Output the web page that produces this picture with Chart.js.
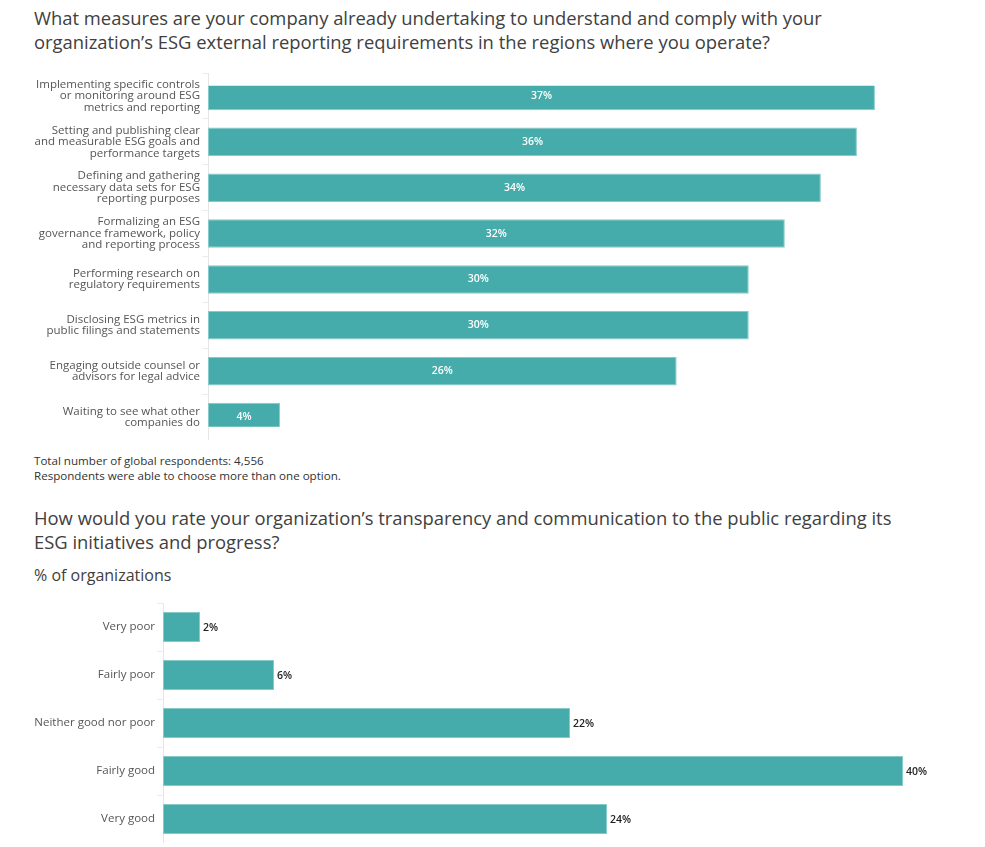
<!DOCTYPE html>
<html>
<head>
<meta charset="utf-8">
<script src="https://cdn.jsdelivr.net/npm/chart.js@4"></script>
<style>
  html, body { margin:0; padding:0; background:#fff; }
  body { width:985px; height:847px; position:relative; overflow:hidden; font-family: 'Open Sans', sans-serif; }
  .title { position:absolute; left:34px; font-size:18.4px; line-height:24px; color:#404040; font-weight:400; white-space:nowrap; }
  .note { position:absolute; left:34px; font-size:11.6px; line-height:15px; color:#333; white-space:nowrap; }
  .sub { position:absolute; left:34px; font-size:16px; line-height:20px; color:#404040; }
  canvas { position:absolute; left:0; }
</style>
</head>
<body>
<div class="title" id="t1" style="top:6px;"></div>
<canvas id="c1" width="985" height="367" style="top:73px;"></canvas>
<div class="note" id="n1" style="top:453px;"></div>
<div class="title" id="t2" style="top:506px;"></div>
<div class="sub" id="s2" style="top:565px;"></div>
<canvas id="c2" width="985" height="240" style="top:603px;"></canvas>
<script>
const title1 = ["What measures are your company already undertaking to understand and comply with your",
                "organization\u2019s ESG external reporting requirements in the regions where you operate?"];
const notes1 = ["Total number of global respondents: 4,556",
                "Respondents were able to choose more than one option."];
const title2 = ["How would you rate your organization\u2019s transparency and communication to the public regarding its",
                "ESG initiatives and progress?"];
const subtitle2 = "% of organizations";

const categories1 = [
  ["Implementing specific controls", "or monitoring around ESG", "metrics and reporting"],
  ["Setting and publishing clear", "and measurable ESG goals and", "performance targets"],
  ["Defining and gathering", "necessary data sets for ESG", "reporting purposes"],
  ["Formalizing an ESG", "governance framework, policy", "and reporting process"],
  ["Performing research on", "regulatory requirements"],
  ["Disclosing ESG metrics in", "public filings and statements"],
  ["Engaging outside counsel or", "advisors for legal advice"],
  ["Waiting to see what other", "companies do"]
];
const values1 = [37, 36, 34, 32, 30, 30, 26, 4];

const categories2 = ["Very poor", "Fairly poor", "Neither good nor poor", "Fairly good", "Very good"];
const values2 = [2, 6, 22, 40, 24];

document.getElementById('t1').innerHTML = title1.join('<br>');
document.getElementById('n1').innerHTML = notes1.join('<br>');
document.getElementById('t2').innerHTML = title2.join('<br>');
document.getElementById('s2').textContent = subtitle2;

const FONT = "'Open Sans', sans-serif";
const BAR_FILL = '#46acab';
const BAR_EDGE = '#86cbc9';

const barLabels = {
  id: 'barLabels',
  afterDatasetsDraw(chart, args, opts) {
    const ctx = chart.ctx;
    const meta = chart.getDatasetMeta(0);
    const data = chart.data.datasets[0].data;
    ctx.save();
    ctx.font = '600 10.5px ' + FONT;
    ctx.textBaseline = 'middle';
    meta.data.forEach((bar, i) => {
      const txt = data[i] + '%';
      if (opts.mode === 'inside') {
        ctx.fillStyle = '#ffffff';
        ctx.textAlign = 'center';
        ctx.fillText(txt, (bar.base + bar.x) / 2, bar.y);
      } else {
        ctx.fillStyle = '#222222';
        ctx.textAlign = 'left';
        ctx.fillText(txt, bar.x + 3, bar.y + 1);
      }
    });
    ctx.restore();
  }
};

function makeChart(id, labels, values, opts) {
  return new Chart(document.getElementById(id), {
    type: 'bar',
    data: {
      labels: labels,
      datasets: [{
        data: values,
        backgroundColor: BAR_FILL,
        borderColor: BAR_EDGE,
        borderWidth: 1,
        borderSkipped: false,
        categoryPercentage: 1,
        barPercentage: opts.barPct,
        clip: opts.clip
      }]
    },
    options: {
      indexAxis: 'y',
      responsive: false,
      animation: false,
      layout: { padding: { left: 0, right: opts.padRight, top: 0, bottom: 0 } },
      plugins: {
        legend: { display: false },
        tooltip: { enabled: false },
        barLabels: { mode: opts.mode }
      },
      scales: {
        x: { display: false, min: 0, max: opts.max },
        y: {
          offset: true,
          grid: { display: true, drawOnChartArea: false, drawTicks: true, tickLength: 6, color: '#ececec' },
          border: { display: true, color: '#e6e6e6' },
          ticks: { font: { family: FONT, size: 11.5, lineHeight: 1.0 }, color: '#555', padding: 2, autoSkip: false },
          afterFit(scale) {
            scale.width = opts.axisWidth;
            scale.paddingTop = 0;
            scale.paddingBottom = 0;
          }
        }
      }
    },
    plugins: [barLabels]
  });
}

makeChart('c1', categories1, values1, { barPct: 0.62, max: 40, padRight: 56, axisWidth: 208, mode: 'inside',
  clip: { left: 0, right: 0, top: -12.7, bottom: -13.3 } });
makeChart('c2', categories2, values2, { barPct: 0.625, max: 42, padRight: 45, axisWidth: 163, mode: 'outside',
  clip: 0 });
</script>
</body>
</html>
